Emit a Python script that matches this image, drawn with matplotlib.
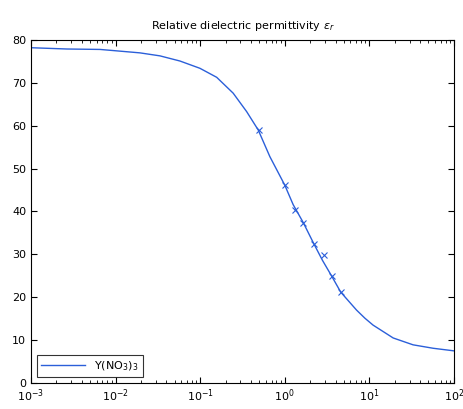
import numpy as np
import matplotlib.pyplot as plt
from matplotlib.ticker import LogLocator, NullFormatter

# curve (frequency, permittivity)
curve_f = [1e-3, 0.00266, 0.00655, 0.0113, 0.0194, 0.0335, 0.0577, 0.0995, 0.157,
           0.246, 0.355, 0.487, 0.668, 1.0, 1.26, 1.66, 2.17, 2.8, 3.58, 4.6,
           7.08, 8.9, 11.1, 19.2, 33, 57, 100]
curve_eps = [78.2, 77.9, 77.8, 77.4, 77.0, 76.3, 75.1, 73.4, 71.3,
             67.6, 63.3, 59.0, 52.8, 46.2, 41.6, 37.4, 32.8, 28.6, 25.0, 21.2,
             17.0, 15.1, 13.5, 10.5, 8.9, 8.1, 7.5]

# measured points (x markers)
meas_f = [0.50, 1.01, 1.33, 1.63, 2.23, 2.93, 3.65, 4.58]
meas_eps = [58.9, 46.1, 40.4, 37.4, 32.5, 29.9, 24.9, 21.2]

blue = '#2b5fd9'

fig = plt.figure(figsize=(4.64, 4.09), dpi=100)
ax = fig.add_axes([0.0668, 0.0636, 0.9112, 0.8386])

ax.semilogx(curve_f, curve_eps, color=blue, linewidth=1.0, label='Y(NO$_3$)$_3$')
ax.semilogx(meas_f, meas_eps, linestyle='none', marker='x', markersize=4,
            markeredgewidth=0.8, color=blue)

ax.set_xlim(1e-3, 1e2)
ax.set_ylim(0, 80)
ax.set_yticks(np.arange(0, 81, 10))
ax.xaxis.set_major_locator(LogLocator(base=10, numticks=10))
ax.xaxis.set_minor_locator(LogLocator(base=10, subs=np.arange(2, 10), numticks=20))
ax.xaxis.set_minor_formatter(NullFormatter())
ax.tick_params(which='both', direction='in', top=True, right=True, labelsize=8)
ax.tick_params(which='major', length=4)
ax.tick_params(which='minor', length=2)

ax.set_title('Relative dielectric permittivity $\\varepsilon_r$', fontsize=8, pad=8)

leg = ax.legend(loc='lower left', fontsize=8, fancybox=False, edgecolor='black',
                handlelength=4, borderaxespad=0.5)
leg.get_frame().set_linewidth(0.8)

fig.savefig('out.png', dpi=100)
